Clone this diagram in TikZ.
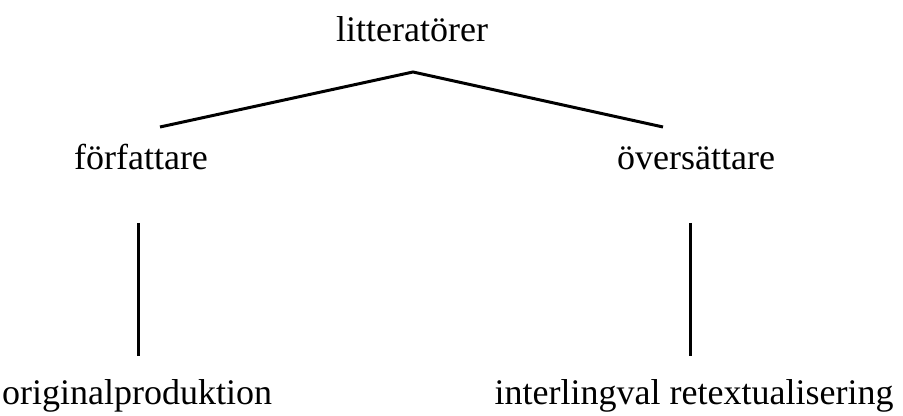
\documentclass[tikz,border=0pt]{standalone}
\usepackage{fontspec}
\setmainfont{Liberation Serif}
\begin{document}
\begin{tikzpicture}[x=0.5pt,y=-0.5pt]
\tikzset{word/.style={anchor=base, inner sep=0pt, font=\fontsize{18}{22}\selectfont}}
\useasboundingbox (0,0) rectangle (903,416);

\node[word](litt) at (412,42) {litteratörer};
\node[word](forf) at (141,170) {författare};
\node[word](over) at (696,170) {översättare};
\node[word](orig) at (137,404) {originalproduktion};
\node[word](inter) at (694,404) {interlingval retextualisering};

\coordinate (top) at (413,72);
\coordinate (l1) at (160,127);
\coordinate (r1) at (663,127);
\coordinate (l2) at (138,223);
\coordinate (l3) at (138,356);
\coordinate (r2) at (690,223);
\coordinate (r3) at (690,356);

\draw[line width=1.5pt] (l1) -- (top) -- (r1);
\draw[line width=1.5pt] (l2) -- (l3);
\draw[line width=1.5pt] (r2) -- (r3);
\end{tikzpicture}
\end{document}
